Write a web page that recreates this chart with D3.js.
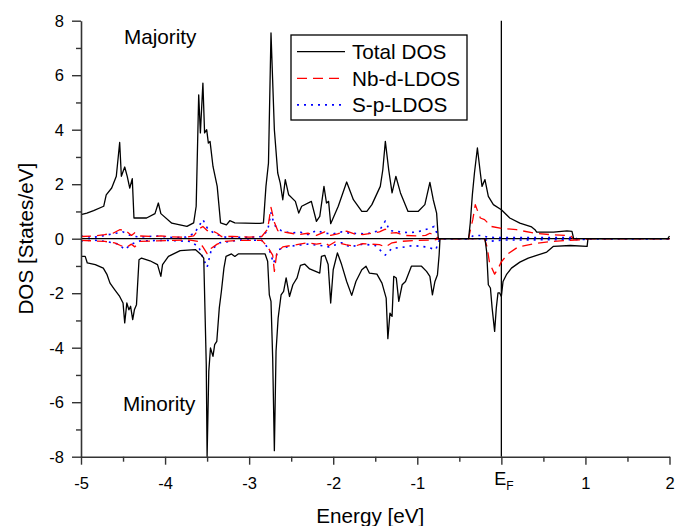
<!DOCTYPE html>
<html>
<head>
<meta charset="utf-8">
<script src="https://cdn.jsdelivr.net/npm/d3@7"></script>
<style>
  body { margin: 0; background: #fff; }
  svg { display: block; }
  text { font-family: Arial, "Liberation Sans", sans-serif; fill: #000; }
</style>
</head>
<body>
<svg id="chart" width="675" height="526"></svg>
<script>
// energies in eV, DOS in states/eV
var totalUp = [[-5.0,0.88],[-4.93,0.94],[-4.85,1.03],[-4.73,1.19],[-4.70,1.61],[-4.635,1.86],[-4.58,2.29],[-4.54,3.53],[-4.52,2.29],[-4.48,2.63],[-4.45,2.29],[-4.42,1.86],[-4.39,2.2],[-4.37,0.76],[-4.22,0.76],[-4.12,0.92],[-4.08,1.31],[-4.05,0.92],[-3.92,0.57],[-3.74,0.45],[-3.66,0.58],[-3.63,1.19],[-3.60,5.28],[-3.58,3.88],[-3.55,5.71],[-3.53,3.88],[-3.505,4.0],[-3.485,3.51],[-3.465,3.57],[-3.43,2.65],[-3.38,1.92],[-3.34,0.58],[-3.27,0.51],[-3.23,0.66],[-3.17,0.58],[-2.87,0.56],[-2.83,0.58],[-2.80,1.92],[-2.77,2.78],[-2.74,7.55],[-2.70,4.0],[-2.66,2.41],[-2.63,2.04],[-2.60,1.43],[-2.57,2.17],[-2.53,1.61],[-2.45,1.37],[-2.41,0.94],[-2.375,1.19],[-2.26,1.37],[-2.20,0.64],[-2.16,0.82],[-2.11,1.92],[-2.08,1.31],[-2.055,1.37],[-2.03,0.55],[-1.94,1.19],[-1.84,2.08],[-1.76,1.43],[-1.66,1.0],[-1.60,1.0],[-1.54,1.25],[-1.44,1.92],[-1.41,2.53],[-1.38,3.57],[-1.34,2.53],[-1.30,1.68],[-1.255,2.29],[-1.20,1.68],[-1.11,1.0],[-0.99,1.0],[-0.91,1.25],[-0.85,2.07],[-0.81,1.43],[-0.77,0.94],[-0.75,0.0],[-0.39,0.0],[-0.37,0.57],[-0.345,1.61],[-0.32,2.41],[-0.285,3.33],[-0.25,2.41],[-0.23,1.92],[-0.195,2.17],[-0.155,1.55],[-0.095,1.25],[0.0,1.06],[0.10,0.76],[0.22,0.57],[0.36,0.43],[0.40,0.33],[0.42,0.24],[0.62,0.24],[0.78,0.29],[0.84,0.27],[0.86,0.0],[1.98,0.0],[2.0,0.1]];

var totalDown = [[-5.0,-0.65],[-4.95,-0.65],[-4.925,-0.89],[-4.83,-0.95],[-4.735,-1.08],[-4.69,-1.32],[-4.655,-1.63],[-4.60,-1.87],[-4.54,-2.12],[-4.50,-2.36],[-4.48,-3.09],[-4.455,-2.36],[-4.43,-2.61],[-4.41,-2.48],[-4.385,-2.97],[-4.365,-2.61],[-4.34,-2.42],[-4.31,-0.77],[-4.28,-0.71],[-4.18,-0.81],[-4.09,-0.95],[-4.05,-1.38],[-4.03,-0.95],[-3.96,-0.65],[-3.82,-0.44],[-3.64,-0.40],[-3.58,-0.56],[-3.54,-0.71],[-3.51,-4.62],[-3.50,-7.99],[-3.48,-4.87],[-3.46,-4.01],[-3.43,-4.32],[-3.41,-3.89],[-3.385,-3.77],[-3.355,-2.54],[-3.33,-1.93],[-3.30,-1.08],[-3.275,-0.65],[-3.21,-0.56],[-3.17,-0.65],[-3.13,-0.56],[-2.81,-0.56],[-2.78,-0.83],[-2.76,-2.06],[-2.74,-2.30],[-2.72,-4.38],[-2.70,-7.78],[-2.68,-4.13],[-2.655,-2.91],[-2.62,-2.06],[-2.59,-1.93],[-2.56,-1.44],[-2.52,-2.12],[-2.48,-1.69],[-2.43,-1.44],[-2.39,-0.98],[-2.34,-0.93],[-2.28,-1.11],[-2.16,-1.26],[-2.14,-0.65],[-2.10,-0.61],[-2.06,-0.95],[-2.03,-2.36],[-2.00,-1.14],[-1.95,-0.52],[-1.90,-0.95],[-1.84,-1.57],[-1.78,-2.08],[-1.73,-1.57],[-1.66,-1.14],[-1.61,-1.01],[-1.57,-1.26],[-1.48,-1.30],[-1.42,-1.63],[-1.37,-2.18],[-1.35,-3.67],[-1.325,-2.73],[-1.30,-2.85],[-1.28,-1.38],[-1.25,-1.44],[-1.22,-2.30],[-1.18,-1.69],[-1.14,-1.57],[-1.07,-1.01],[-0.95,-1.01],[-0.89,-1.20],[-0.85,-1.38],[-0.82,-2.06],[-0.79,-1.57],[-0.76,-1.32],[-0.74,-0.59],[-0.73,0.0],[-0.195,0.0],[-0.175,-0.47],[-0.155,-1.69],[-0.13,-1.81],[-0.11,-2.54],[-0.08,-3.40],[-0.06,-2.54],[-0.04,-1.99],[-0.02,-1.99],[0.0,-2.12],[0.02,-1.57],[0.06,-1.32],[0.12,-1.08],[0.22,-0.86],[0.32,-0.71],[0.42,-0.61],[0.54,-0.49],[0.62,-0.28],[0.82,-0.25],[1.02,-0.28],[1.03,0.0],[2.0,0.0]];

var nbdUp = [[-5.0,0.08],[-4.85,0.1],[-4.72,0.15],[-4.62,0.2],[-4.54,0.33],[-4.47,0.3],[-4.40,0.12],[-4.36,0.22],[-4.3,0.1],[-4.15,0.08],[-4.05,0.1],[-3.92,0.07],[-3.75,0.05],[-3.66,0.1],[-3.6,0.35],[-3.55,0.45],[-3.5,0.3],[-3.45,0.3],[-3.38,0.2],[-3.33,0.08],[-3.2,0.08],[-3.0,0.06],[-2.85,0.08],[-2.78,0.35],[-2.74,1.15],[-2.70,0.6],[-2.66,0.3],[-2.6,0.25],[-2.5,0.2],[-2.42,0.15],[-2.3,0.2],[-2.2,0.12],[-2.1,0.25],[-2.03,0.12],[-1.95,0.18],[-1.84,0.28],[-1.75,0.18],[-1.65,0.15],[-1.55,0.2],[-1.45,0.25],[-1.38,0.35],[-1.32,0.2],[-1.25,0.22],[-1.15,0.12],[-1.0,0.1],[-0.9,0.12],[-0.85,0.2],[-0.78,0.1],[-0.75,0.0],[-0.39,0.0],[-0.37,0.3],[-0.34,0.7],[-0.31,1.25],[-0.28,1.0],[-0.25,0.76],[-0.2,0.7],[-0.12,0.45],[0.0,0.38],[0.18,0.33],[0.38,0.21],[0.58,0.15],[0.82,0.11],[0.86,0.0],[2.0,0.0]];

var nbdDown = [[-5.0,-0.06],[-4.85,-0.08],[-4.72,-0.1],[-4.6,-0.15],[-4.53,-0.25],[-4.45,-0.3],[-4.40,-0.2],[-4.36,-0.3],[-4.3,-0.1],[-4.1,-0.08],[-3.9,-0.06],[-3.7,-0.05],[-3.6,-0.1],[-3.55,-0.3],[-3.5,-0.55],[-3.45,-0.35],[-3.38,-0.2],[-3.3,-0.1],[-3.1,-0.06],[-2.85,-0.06],[-2.78,-0.3],[-2.72,-0.6],[-2.70,-1.2],[-2.67,-0.5],[-2.6,-0.3],[-2.5,-0.25],[-2.4,-0.2],[-2.3,-0.15],[-2.2,-0.2],[-2.1,-0.15],[-2.05,-0.25],[-1.98,-0.12],[-1.85,-0.22],[-1.75,-0.28],[-1.65,-0.18],[-1.55,-0.2],[-1.45,-0.22],[-1.38,-0.3],[-1.3,-0.15],[-1.2,-0.1],[-1.0,-0.06],[-0.8,-0.05],[-0.73,0.0],[-0.2,0.0],[-0.17,-0.3],[-0.14,-0.9],[-0.08,-1.3],[-0.04,-1.1],[0.0,-0.85],[0.08,-0.55],[0.2,-0.3],[0.4,-0.18],[0.6,-0.1],[0.8,-0.06],[1.0,-0.03],[1.05,0.0],[2.0,0.0]];

var spUp = [[-5.0,0.1],[-4.85,0.05],[-4.75,0.1],[-4.62,0.18],[-4.5,0.25],[-4.4,0.1],[-4.3,0.06],[-4.1,0.1],[-3.9,0.04],[-3.75,0.06],[-3.65,0.2],[-3.58,0.55],[-3.55,0.7],[-3.5,0.4],[-3.42,0.2],[-3.3,0.06],[-3.0,0.05],[-2.85,0.08],[-2.78,0.3],[-2.74,0.95],[-2.70,0.5],[-2.62,0.3],[-2.5,0.2],[-2.4,0.25],[-2.3,0.15],[-2.2,0.3],[-2.1,0.2],[-2.0,0.18],[-1.9,0.25],[-1.8,0.2],[-1.6,0.18],[-1.45,0.3],[-1.38,0.65],[-1.33,0.3],[-1.2,0.25],[-1.1,0.22],[-1.0,0.25],[-0.85,0.38],[-0.8,0.45],[-0.76,0.15],[-0.75,0.0],[-0.39,0.0],[-0.33,0.12],[-0.25,0.12],[-0.15,0.05],[0.0,0.04],[0.86,0.04],[0.9,0.0],[2.0,0.0]];

var spDown = [[-5.0,-0.08],[-4.85,-0.05],[-4.7,-0.1],[-4.55,-0.2],[-4.48,-0.4],[-4.4,-0.2],[-4.3,-0.08],[-4.0,-0.06],[-3.7,-0.1],[-3.6,-0.3],[-3.55,-0.7],[-3.5,-1.05],[-3.45,-0.4],[-3.35,-0.15],[-3.1,-0.05],[-2.85,-0.06],[-2.76,-0.4],[-2.71,-0.9],[-2.65,-0.4],[-2.55,-0.3],[-2.45,-0.25],[-2.3,-0.2],[-2.15,-0.25],[-2.05,-0.3],[-1.9,-0.15],[-1.8,-0.3],[-1.65,-0.2],[-1.5,-0.25],[-1.38,-0.6],[-1.3,-0.35],[-1.2,-0.33],[-1.05,-0.25],[-0.9,-0.3],[-0.78,-0.4],[-0.73,0.0],[-0.2,0.0],[-0.15,-0.1],[0.0,-0.05],[1.0,-0.03],[1.05,0.0],[2.0,0.0]];

var xTicks = [-5, -4, -3, -2, -1, 0, 1, 2];
var xMinor = [-4.5, -3.5, -2.5, -1.5, -0.5, 0.5, 1.5];
var yTicks = [-8, -6, -4, -2, 0, 2, 4, 6, 8];
var yMinor = [-7, -5, -3, -1, 1, 3, 5, 7];
var legendNames = ["Total DOS", "Nb-d-LDOS", "S-p-LDOS"];

var svg = d3.select("#chart");
var plotLeft = 81, plotRight = 669.5, plotTop = 20.7, plotBottom = 456.7;

var x = d3.scaleLinear().domain([-5, 2]).range([plotLeft, plotRight]);
var y = d3.scaleLinear().domain([-8, 8]).range([plotBottom, plotTop]);

var line = d3.line().x(d => x(d[0])).y(d => y(d[1]));

// styles per series
var styles = [
  { color: "#000", dash: null, width: 1.3 },
  { color: "#ff0000", dash: "10,6", width: 1.3 },
  { color: "#0000ff", dash: "2,5", width: 1.6 }
];

// zero line and Fermi level
svg.append("line")
  .attr("x1", x(-5)).attr("x2", x(2))
  .attr("y1", y(0)).attr("y2", y(0))
  .attr("stroke", "#000").attr("stroke-width", 1.3);
svg.append("line")
  .attr("x1", x(0)).attr("x2", x(0))
  .attr("y1", y(8)).attr("y2", y(-8))
  .attr("stroke", "#000").attr("stroke-width", 1.3);

var series = [
  [spUp, 2], [spDown, 2],
  [nbdUp, 1], [nbdDown, 1],
  [totalUp, 0], [totalDown, 0]
];
series.forEach(function (s) {
  var st = styles[s[1]];
  svg.append("path")
    .datum(s[0])
    .attr("d", line)
    .attr("fill", "none")
    .attr("stroke", st.color)
    .attr("stroke-width", st.width)
    .attr("stroke-dasharray", st.dash)
    .attr("stroke-linejoin", "round");
});

// axes
var axisColor = "#333";
var gx = svg.append("g").attr("transform", "translate(0," + plotBottom + ")");
gx.call(d3.axisBottom(x).tickValues(xTicks).tickSize(8).tickSizeOuter(0)
  .tickFormat(d => d === 0 ? "" : String(d)));
gx.append("g").call(d3.axisBottom(x).tickValues(xMinor).tickSize(5).tickFormat(""))
  .select(".domain").remove();

var gy = svg.append("g").attr("transform", "translate(" + plotLeft + ",0)");
gy.call(d3.axisLeft(y).tickValues(yTicks).tickSize(9).tickSizeOuter(0)
  .tickFormat(d => String(d)));
gy.append("g").call(d3.axisLeft(y).tickValues(yMinor).tickSize(5).tickFormat(""))
  .select(".domain").remove();

svg.selectAll(".domain").attr("stroke", axisColor).attr("stroke-width", 1.6);
svg.selectAll(".tick line").attr("stroke", axisColor).attr("stroke-width", 1.4);
svg.selectAll(".tick text")
  .style("font-family", "Arial, 'Liberation Sans', sans-serif")
  .style("font-size", "16.5px").attr("fill", "#000");
gx.selectAll(".tick text").attr("dy", "0.95em").attr("y", 17);
gy.selectAll(".tick text").attr("x", -17).attr("dy", "0.35em");

// E_F tick label
var ef = svg.append("text")
  .attr("x", x(0) - 7).attr("y", plotBottom + 28.5)
  .style("font-size", "18px");
ef.append("tspan").text("E");
ef.append("tspan").attr("dy", 5).style("font-size", "12px").text("F");

// axis titles
svg.append("text")
  .attr("x", (plotLeft + plotRight) / 2 - 5).attr("y", 523)
  .attr("text-anchor", "middle")
  .style("font-size", "20.7px")
  .text("Energy [eV]");
svg.append("text")
  .attr("transform", "translate(33," + y(0) + ") rotate(-90)")
  .attr("text-anchor", "middle")
  .style("font-size", "20.7px")
  .text("DOS [States/eV]");

// spin channel labels
svg.append("text").attr("x", 124).attr("y", 43.5)
  .style("font-size", "20.7px").text("Majority");
svg.append("text").attr("x", 123).attr("y", 411)
  .style("font-size", "20.7px").text("Minority");

// legend
var lg = svg.append("g");
lg.append("rect")
  .attr("x", 291).attr("y", 35).attr("width", 176).attr("height", 85)
  .attr("fill", "#fff").attr("stroke", "#000").attr("stroke-width", 1.3);
legendNames.forEach(function (name, i) {
  var cy = 51.7 + i * 26.6;
  var st = styles[i];
  lg.append("line")
    .attr("x1", 297).attr("x2", 345)
    .attr("y1", cy).attr("y2", cy)
    .attr("stroke", st.color)
    .attr("stroke-width", st.width)
    .attr("stroke-dasharray", st.dash);
  lg.append("text")
    .attr("x", 352).attr("y", cy + 7.5)
    .style("font-size", "20.7px")
    .text(name);
});
</script>
</body>
</html>
